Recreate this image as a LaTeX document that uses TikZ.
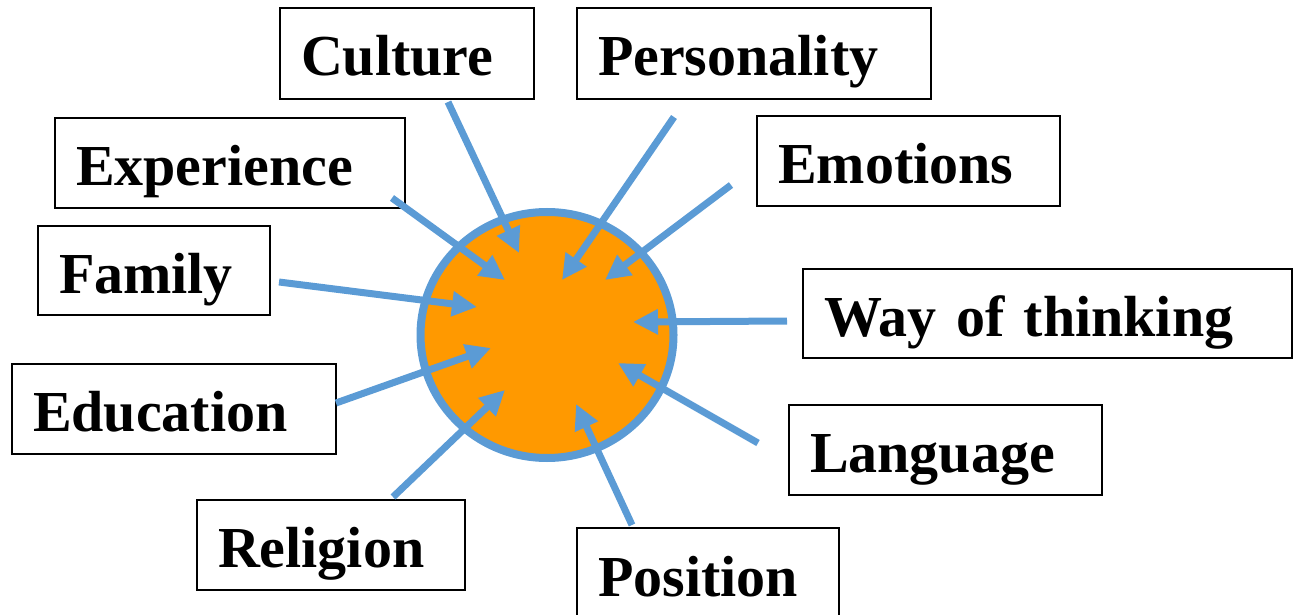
\documentclass[tikz,border=0pt]{standalone}
\usepackage{fontspec}
\setmainfont{Liberation Serif}
\usetikzlibrary{arrows.meta,shapes.geometric}
\definecolor{arrowblue}{HTML}{5B9BD5}
\definecolor{coreorange}{HTML}{FF9900}
\tikzset{
  factor/.style={draw=black, line width=2pt, anchor=north west, inner xsep=21pt, inner ysep=0pt,
    font=\fontsize{58}{60}\selectfont\bfseries, align=left, text height=56pt, text depth=11pt},
  inflow/.style={draw=arrowblue, line width=7pt, -{Triangle[length=25pt,width=24pt]}},
}
\begin{document}
\begin{tikzpicture}[x=1pt,y=-1pt]
\useasboundingbox (0,0) rectangle (1294,615);
% central circle
\node[ellipse, draw=arrowblue, fill=coreorange, line width=8pt, minimum width=253pt, minimum height=246pt, inner sep=0pt] (core) at (547,335) {};
% boxes
\node[factor, text width=212pt, minimum height=91pt] (cul) at (279,7) {Culture};
\node[factor, text width=312pt, minimum height=91pt] (per) at (576,7) {Personality};
\node[factor, text width=308pt, minimum height=90pt] (exp) at (54,117) {Experience};
\node[factor, text width=261pt, minimum height=90pt] (emo) at (756,115) {Emotions};
\node[factor, text width=190pt, minimum height=89pt] (fam) at (37,225) {Family};
\node[factor, text width=447pt, minimum height=89pt] (way) at (802,268) {Way of thinking};
\node[factor, text width=282pt, minimum height=90pt] (edu) at (11,363) {Education};
\node[factor, text width=271pt, minimum height=90pt] (lan) at (788,404) {Language};
\node[factor, text width=226pt, minimum height=90pt] (rel) at (196,499) {Religion};
\node[factor, text width=220pt, minimum height=91pt] (pos) at (576,527) {Position};
% arrow start points (at the boxes) and tips (inside the circle)
\coordinate (culS) at (448,102); \coordinate (culT) at (519,253);
\coordinate (perS) at (674,117); \coordinate (perT) at (562,280);
\coordinate (expS) at (392,198); \coordinate (expT) at (505,280);
\coordinate (emoS) at (731,185); \coordinate (emoT) at (605,280);
\coordinate (famS) at (279,282); \coordinate (famT) at (477,307);
\coordinate (wayS) at (787,321); \coordinate (wayT) at (633,322);
\coordinate (eduS) at (336,403); \coordinate (eduT) at (491,348);
\coordinate (lanS) at (758,443); \coordinate (lanT) at (618,363);
\coordinate (relS) at (393,497); \coordinate (relT) at (505,390);
\coordinate (posS) at (632,525); \coordinate (posT) at (576,404);
\foreach \k in {cul,per,exp,emo,fam,way,edu,lan,rel,pos}
  \draw[inflow] (\k S) -- (\k T);
\end{tikzpicture}
\end{document}
